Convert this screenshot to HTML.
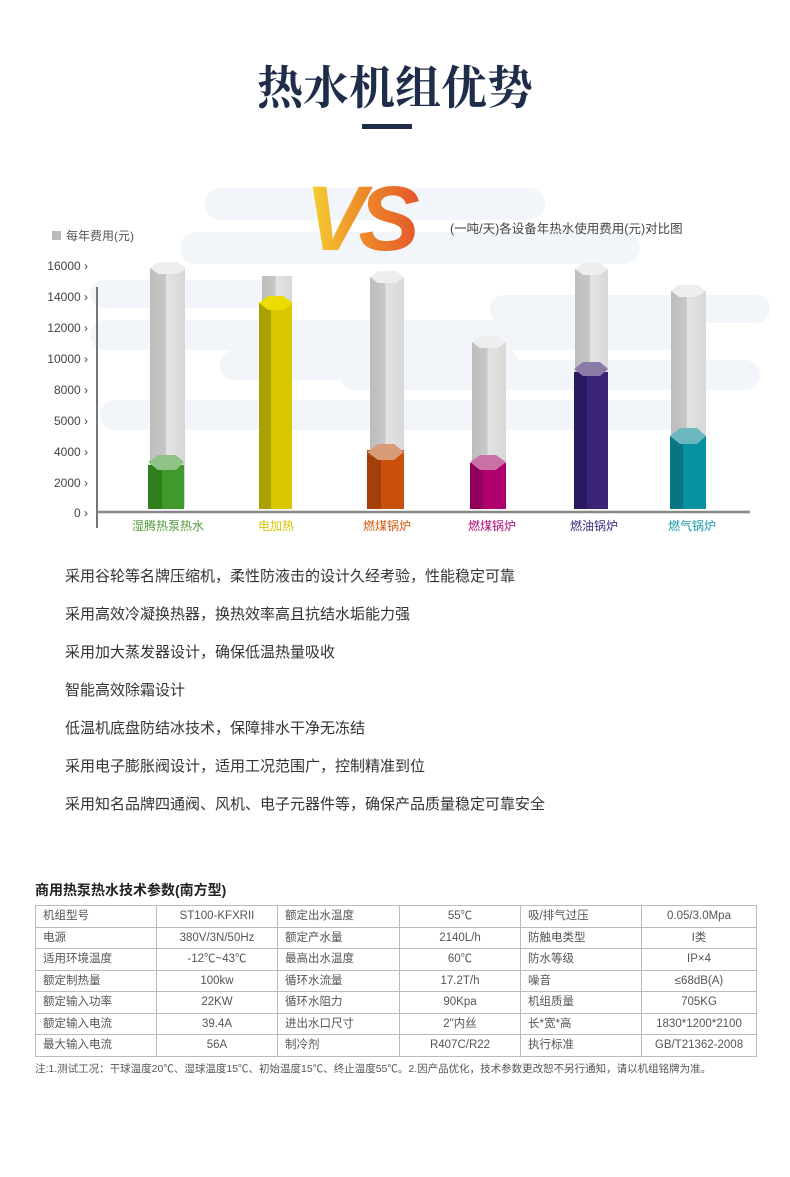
<!DOCTYPE html>
<html><head><meta charset="utf-8"><style>
body{margin:0;background:#fff;width:790px;height:1177px;position:relative;overflow:hidden;font-family:"Liberation Sans","Noto Sans CJK SC",sans-serif;}
.t{position:absolute;}
.f{position:absolute;left:65px;font-size:15px;color:#333;}
table{position:absolute;left:35px;top:905px;width:722px;border-collapse:collapse;font-size:11.5px;color:#555;}
td{border:1px solid #bbb;height:20.5px;padding:0 0 0 7px;vertical-align:middle;line-height:14px;}
td.c{text-align:center;padding:0}
</style></head><body>
<div class="t" style="left:0;width:790px;top:52px;text-align:center;font-size:46px;font-weight:bold;color:#1f2d4a;font-family:'Noto Serif CJK SC',serif;">热水机组优势</div>
<div class="t" style="left:362px;top:124px;width:50px;height:5px;background:#1f2d4a"></div>
<svg class="t" style="left:0;top:0" width="790" height="545">
<defs>
<linearGradient id="vs" x1="0" x2="1"><stop offset="0" stop-color="#f5d833"/><stop offset="0.5" stop-color="#ee8a2a"/><stop offset="1" stop-color="#e4572a"/></linearGradient>
<linearGradient id="gl" x1="0" x2="1"><stop offset="0" stop-color="#bdbdbd"/><stop offset="0.45" stop-color="#c8c8c8"/><stop offset="0.46" stop-color="#e3e3e3"/><stop offset="1" stop-color="#d8d8d8"/></linearGradient>
</defs>
<g fill="#f2f6fa">
<rect x="205" y="188" width="340" height="32" rx="16"/><rect x="180" y="232" width="460" height="32" rx="16"/>
<rect x="90" y="320" width="600" height="30" rx="15"/><rect x="340" y="360" width="420" height="30" rx="15"/>
<rect x="100" y="400" width="580" height="30" rx="15"/><rect x="490" y="295" width="280" height="28" rx="14"/>
<rect x="90" y="280" width="200" height="28" rx="14"/><rect x="220" y="350" width="300" height="30" rx="15"/>
</g>
<text x="305" y="250" font-size="92" font-weight="bold" font-style="italic" fill="url(#vs)" font-family="Liberation Sans" letter-spacing="-8">VS</text>
<rect x="52" y="231" width="9" height="9" fill="#bbb"/>
<text x="66" y="240" font-size="12" fill="#555">每年费用(元)</text>
<text x="450" y="233" font-size="12.5" fill="#444">(一吨/天)各设备年热水使用费用(元)对比图</text>
<line x1="97" y1="287" x2="97" y2="528" stroke="#777" stroke-width="2"/>
<line x1="97" y1="512" x2="750" y2="512" stroke="#888" stroke-width="2.5"/>
<g font-size="12" fill="#444" text-anchor="end">
<text x="88" y="270">16000 ›</text><text x="88" y="301">14000 ›</text><text x="88" y="332">12000 ›</text><text x="88" y="363">10000 ›</text><text x="88" y="394">8000 ›</text><text x="88" y="425">5000 ›</text><text x="88" y="456">4000 ›</text><text x="88" y="487">2000 ›</text><text x="88" y="517">0 ›</text>
</g>
<g>
<rect x="150" y="268" width="35" height="240" fill="url(#gl)"/><polygon points="150,268 158,262 178,262 186,268 178,274 158,274" fill="#eee"/>
<rect x="148" y="465" width="36" height="44" fill="#3f9a2b"/><rect x="148" y="465" width="14" height="44" fill="#2f7f1d"/><polygon points="148,462 158,455 176,455 184,462 176,470 158,470" fill="#8fc385"/>
</g>
<g>
<rect x="262" y="276" width="30" height="60" fill="url(#gl)"/>
<rect x="259" y="303" width="33" height="206" fill="#d8c600"/><rect x="259" y="303" width="12" height="206" fill="#aaa000"/><polygon points="259,303 268,296 283,296 293,303 283,310 268,310" fill="#ecdc00"/>
</g>
<g>
<rect x="370" y="277" width="34" height="231" fill="url(#gl)"/><polygon points="370,277 378,271 396,271 404,277 396,283 378,283" fill="#eee"/>
<rect x="367" y="450" width="37" height="59" fill="#c8500a"/><rect x="367" y="450" width="14" height="59" fill="#a3400a"/><polygon points="367,452 378,444 394,444 404,452 394,460 378,460" fill="#d99a78"/>
</g>
<g>
<rect x="472" y="342" width="34" height="166" fill="url(#gl)"/><polygon points="472,342 480,336 498,336 506,342 498,348 480,348" fill="#eee"/>
<rect x="470" y="463" width="36" height="46" fill="#b0006e"/><rect x="470" y="463" width="13" height="46" fill="#8e005a"/><polygon points="470,462 480,455 496,455 506,462 496,470 480,470" fill="#c970a6"/>
</g>
<g>
<rect x="575" y="269" width="33" height="239" fill="url(#gl)"/><polygon points="575,269 583,263 600,263 608,269 600,275 583,275" fill="#eee"/>
<rect x="574" y="372" width="34" height="137" fill="#3a2478"/><rect x="574" y="372" width="13" height="137" fill="#2a1860"/><polygon points="574,369 583,362 600,362 608,369 600,376 583,376" fill="#8a7aa8"/>
</g>
<g>
<rect x="671" y="291" width="35" height="217" fill="url(#gl)"/><polygon points="671,291 679,285 697,285 706,291 697,297 679,297" fill="#eee"/>
<rect x="670" y="436" width="36" height="73" fill="#0891a0"/><rect x="670" y="436" width="13" height="73" fill="#087682"/><polygon points="670,436 680,428 697,428 706,436 697,444 680,444" fill="#6ab7bd"/>
</g>
<g font-size="12" text-anchor="middle">
<text x="168" y="530" fill="#4f9a3b">湿腾热泵热水</text><text x="276" y="530" fill="#d8c200">电加热</text><text x="387" y="530" fill="#d25a10">燃煤锅炉</text><text x="492" y="530" fill="#b40a78">燃煤锅炉</text><text x="594" y="530" fill="#3e2a82">燃油锅炉</text><text x="692" y="530" fill="#1a9aa6">燃气锅炉</text>
</g>
</svg>
<div class="f" style="top:565px">采用谷轮等名牌压缩机，柔性防液击的设计久经考验，性能稳定可靠</div>
<div class="f" style="top:603px">采用高效冷凝换热器，换热效率高且抗结水垢能力强</div>
<div class="f" style="top:641px">采用加大蒸发器设计，确保低温热量吸收</div>
<div class="f" style="top:679px">智能高效除霜设计</div>
<div class="f" style="top:717px">低温机底盘防结冰技术，保障排水干净无冻结</div>
<div class="f" style="top:755px">采用电子膨胀阀设计，适用工况范围广，控制精准到位</div>
<div class="f" style="top:793px">采用知名品牌四通阀、风机、电子元器件等，确保产品质量稳定可靠安全</div>
<div class="t" style="left:35px;top:880px;font-size:14px;font-weight:bold;color:#222">商用热泵热水技术参数(南方型)</div>
<table>
<tr><td style="width:113px">机组型号</td><td class="c" style="width:120px">ST100-KFXRII</td><td style="width:114px">额定出水温度</td><td class="c" style="width:120px">55℃</td><td style="width:113px">吸/排气过压</td><td class="c">0.05/3.0Mpa</td></tr>
<tr><td>电源</td><td class="c">380V/3N/50Hz</td><td>额定产水量</td><td class="c">2140L/h</td><td>防触电类型</td><td class="c">I类</td></tr>
<tr><td>适用环境温度</td><td class="c">-12℃~43℃</td><td>最高出水温度</td><td class="c">60℃</td><td>防水等级</td><td class="c">IP×4</td></tr>
<tr><td>额定制热量</td><td class="c">100kw</td><td>循环水流量</td><td class="c">17.2T/h</td><td>噪音</td><td class="c">≤68dB(A)</td></tr>
<tr><td>额定输入功率</td><td class="c">22KW</td><td>循环水阻力</td><td class="c">90Kpa</td><td>机组质量</td><td class="c">705KG</td></tr>
<tr><td>额定输入电流</td><td class="c">39.4A</td><td>进出水口尺寸</td><td class="c">2"内丝</td><td>长*宽*高</td><td class="c">1830*1200*2100</td></tr>
<tr><td>最大输入电流</td><td class="c">56A</td><td>制冷剂</td><td class="c">R407C/R22</td><td>执行标准</td><td class="c">GB/T21362-2008</td></tr>
</table>
<div class="t" style="left:35px;top:1061px;font-size:10.5px;color:#555">注:1.测试工况：干球温度20℃、湿球温度15℃、初始温度15℃、终止温度55℃。2.因产品优化，技术参数更改恕不另行通知，请以机组铭牌为准。</div>
</body></html>
